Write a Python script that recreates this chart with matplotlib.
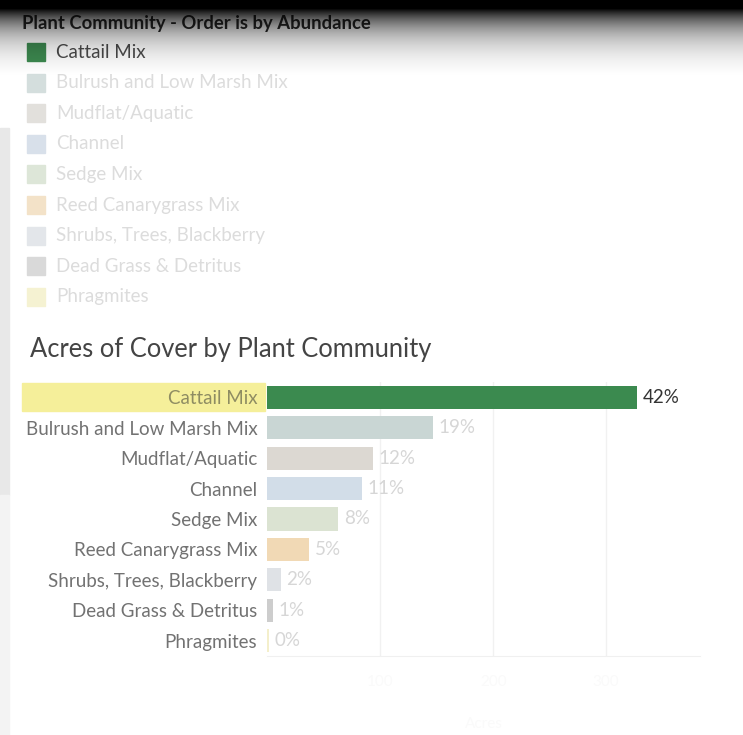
import numpy as np
import matplotlib; matplotlib.use('Agg')
import matplotlib.pyplot as plt
from matplotlib.patches import Rectangle

plt.rcParams['font.family'] = ['Lato', 'DejaVu Sans']

W, H = 743, 735

communities = ['Cattail Mix', 'Bulrush and Low Marsh Mix', 'Mudflat/Aquatic', 'Channel', 'Sedge Mix',
               'Reed Canarygrass Mix', 'Shrubs, Trees, Blackberry', 'Dead Grass & Detritus', 'Phragmites']
acres = [327, 147, 94, 84, 63, 37, 12, 5, 2]
bar_colors = ['#3b8a4f', '#c9d6d4', '#dcd8d2', '#d2dde8', '#dbe3d2', '#f1d9b5', '#dfe2e6', '#cdcdcd', '#f4efcb']
legend_colors = ['#3d8a50', '#d4dedd', '#e2e0dc', '#d8e0ea', '#dde6d8', '#f3e2c8', '#e3e6ea', '#d9d9d9', '#f5f2d2']
grid_ticks = [100, 200, 300]
selected = 'Cattail Mix'

pct = 100 * np.array(acres) / sum(acres)


def px(x, y):
    # pixel position (top-left origin) -> figure fraction
    return x / W, 1 - y / H


fig = plt.figure(figsize=(W / 100, H / 100), dpi=100)
fig.patch.set_facecolor('white')

# grey strip on the left edge of the dashboard
fig.patches.append(Rectangle(px(0, 495), 9 / W, 367 / H, transform=fig.transFigure, color='#e8e8e8', zorder=0))
fig.patches.append(Rectangle(px(0, 735), 9 / W, 240 / H, transform=fig.transFigure, color='#f3f3f3', zorder=0))

# legend block
fig.text(*px(22, 23), 'Plant Community - Order is by Abundance', fontsize=13.3, weight='bold',
         color='#2a2a2a', va='center', ha='left', zorder=3)
for i, (name, col) in enumerate(zip(communities, legend_colors)):
    yc = 52 + i * 30.6
    fig.patches.append(Rectangle(px(27, yc + 9), 18 / W, 18 / H, transform=fig.transFigure,
                                 color=col, zorder=2))
    fig.text(*px(56, yc), name, fontsize=13.5, va='center', ha='left', zorder=3,
             color='#4a4a4a' if name == selected else '#dcdcdc')

fig.text(*px(30, 349), 'Acres of Cover by Plant Community', fontsize=18.4,
         color='#444444', va='center', ha='left')

# bar chart
ax = fig.add_axes([267 / W, 1 - 656 / H, 433 / W, 274 / H])
y = np.arange(len(communities))
ax.barh(y, acres, height=0.76, color=bar_colors, zorder=3)
ax.set_xlim(0, 383)
ax.set_ylim(len(communities) - 0.5, -0.5)
ax.set_xticks(grid_ticks)
ax.set_xticklabels([str(t) for t in grid_ticks], color='#fafafa', fontsize=11)
ax.tick_params(axis='x', length=0, pad=14)
ax.grid(axis='x', color='#f1f1f1', linewidth=1, zorder=0)
ax.set_axisbelow(True)
for s in ['top', 'right', 'left']:
    ax.spines[s].set_visible(False)
ax.spines['bottom'].set_color('#f0f0f0')
ax.set_xlabel('Acres', color='#fafafa', fontsize=11, labelpad=20)

ax.set_yticks(y)
ax.set_yticklabels(communities, fontsize=13.5)
ax.tick_params(axis='y', length=0, pad=7)
for lab, name in zip(ax.get_yticklabels(), communities):
    lab.set_color('#8e8c62' if name == selected else '#727272')

# highlight band behind the selected row label
sel = communities.index(selected)
ax.add_patch(Rectangle((-245 / 433, sel - 0.46), 243 / 433, 0.92, transform=ax.get_yaxis_transform(),
                       color='#f5ef9a', clip_on=False, zorder=0.1))

for yi, v, p, name in zip(y, acres, pct, communities):
    ax.text(v + 5, yi, '%d%%' % round(p), va='center', ha='left', fontsize=13.5,
            color='#333333' if name == selected else '#d6d6d6', zorder=4)

# dark fade across the top edge, one pixel row at a time (reaches zero at row 75)
floor = np.exp(-67 / 24.0)
for r in range(75):
    a = min(1.0, (np.exp(-(r - 8) / 24.0) - floor) / (1 - floor))
    fig.patches.append(Rectangle(px(0, r + 1), 1, 1 / H, transform=fig.transFigure,
                                 facecolor='black', edgecolor='none', alpha=a, zorder=20))

fig.savefig('out.png', dpi=100)
